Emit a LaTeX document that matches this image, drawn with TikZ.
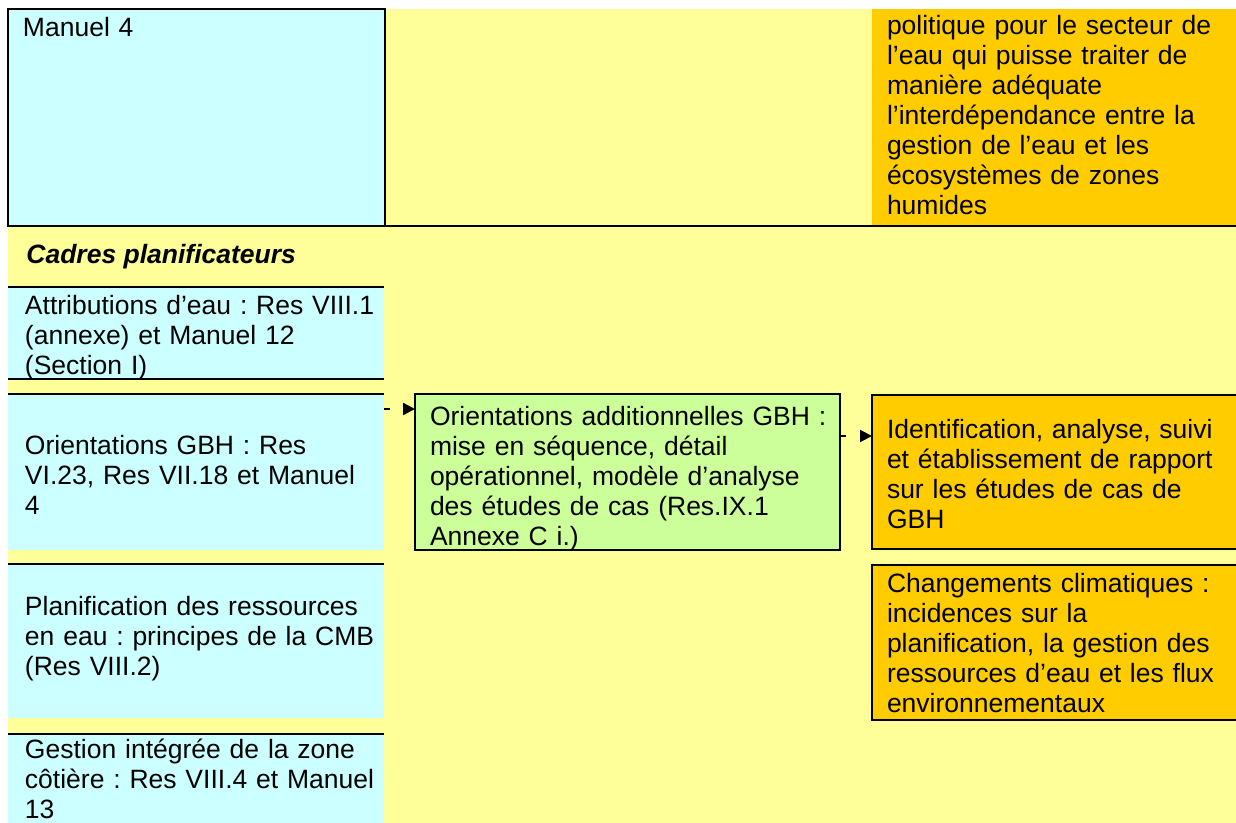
\documentclass[tikz,border=0pt]{standalone}
\usepackage{fontspec}
\setmainfont{Liberation Sans}
\usepackage{tikz}
\usetikzlibrary{arrows.meta}
\usetikzlibrary{calc}
\tikzset{>=latex}
\frenchspacing
\definecolor{cellcyan}{HTML}{CCFFFF}
\definecolor{cellyellow}{HTML}{FFFF99}
\definecolor{cellorange}{HTML}{FFCC00}
\definecolor{cellgreen}{HTML}{CCFF99}
\tikzset{
  cell/.style={anchor=north west, inner sep=0pt, outer sep=0pt, align=left,
    font=\fontsize{13.25}{15}\selectfont, execute at begin node={\leftskip=7.5pt\relax}},
  cellsize/.style 2 args={text height=#1, text depth=#2},
  cyancell/.style={cell, fill=cellcyan, text width=188pt, execute at begin node={\leftskip=8.5pt\relax}},
  orangecell/.style={cell, fill=cellorange, text width=183pt},
  framed/.style={draw=black, line width=0.9pt},
  rowline/.style={draw=black, line width=1pt},
  flowarrow/.style={line width=1.1pt, dash pattern=on 3pt off 10pt, -{Triangle[length=6pt,width=6pt]}}
}

\begin{document}
\begin{tikzpicture}[x=0.5pt, y=-0.5pt]
                \useasboundingbox[fill=white] (0,0) rectangle (1236,823);
                \fill[cellyellow] (8,9) rectangle (1236,823);

                % top row
                \node[cyancell, framed, cellsize={14pt}{94.5pt}, text width=188.5pt,
                  execute at begin node={\leftskip=7.5pt\relax}] (manuel) at (8,9) {Manuel 4};
                \node[cell, fill=cellorange, text width=182pt, cellsize={13pt}{95.5pt}] (politique) at (872,9)
                  {politique pour le secteur de\\ l’eau qui puisse traiter de\\ manière adéquate\\
                   l’interdépendance entre la\\ gestion de l’eau et les\\ écosystèmes de zones\\ humides};
                \draw[rowline] (manuel.south west) -- (manuel.south -| politique.south east);

                % Cadres planificateurs
                \node[anchor=base west, inner sep=0pt, font=\fontsize{13.25}{15}\selectfont\bfseries\itshape]
                  (cadres) at (26,264) {Cadres planificateurs};

                % left column
                \node[cyancell, cellsize={14pt}{32pt}] (attrib) at (8,287)
                  {Attributions d’eau : Res VIII.1\\ (annexe) et Manuel 12\\ (Section I)};
                \node[cyancell, cellsize={30pt}{48pt}] (orient) at (8,394)
                  {Orientations GBH : Res\\ VI.23, Res VII.18 et Manuel\\ 4};
                \node[cyancell, cellsize={25.5pt}{51.5pt}] (planif) at (8,564)
                  {Planification des ressources\\ en eau : principes de la CMB\\ (Res VIII.2)};
                \node[cyancell, cellsize={12pt}{32.5pt}] (gestion) at (8,734)
                  {Gestion intégrée de la zone\\ côtière : Res VIII.4 et Manuel\\ 13};
                \draw[rowline] (attrib.north west) -- (attrib.north east);
                \draw[rowline] (attrib.south west) -- (attrib.south east);
                \draw[rowline] (orient.north west) -- (orient.north east);
                \draw[rowline] (planif.north west) -- (planif.north east);
                \draw[rowline] (gestion.north west) -- (gestion.north east);

                % middle and right column
                \node[cell, framed, fill=cellgreen, text width=212.5pt, cellsize={15.5pt}{62.5pt}] (addit) at (415,394)
                  {Orientations additionnelles GBH :\\ mise en séquence, détail\\ opérationnel, modèle d’analyse\\
                   des études de cas (Res.IX.1\\ Annexe C i.)};
                \node[orangecell, framed, cellsize={21.5pt}{55.5pt}] (ident) at (872,395)
                  {Identification, analyse, suivi\\ et établissement de rapport\\ sur les études de cas de\\ GBH};
                \node[orangecell, framed, cellsize={13.5pt}{64pt}] (climat) at (872,565)
                  {Changements climatiques :\\ incidences sur la\\ planification, la gestion des\\
                   ressources d’eau et les flux\\ environnementaux};

                % orient to addit
                \draw[flowarrow] ([yshift=-7.5pt]orient.north east) -- ([yshift=-7.5pt]addit.north west);
                % addit to ident
                \draw[flowarrow] ([yshift=-21pt]addit.north east) coordinate (a2) -- (a2 -| ident.west);
\end{tikzpicture}
\end{document}
